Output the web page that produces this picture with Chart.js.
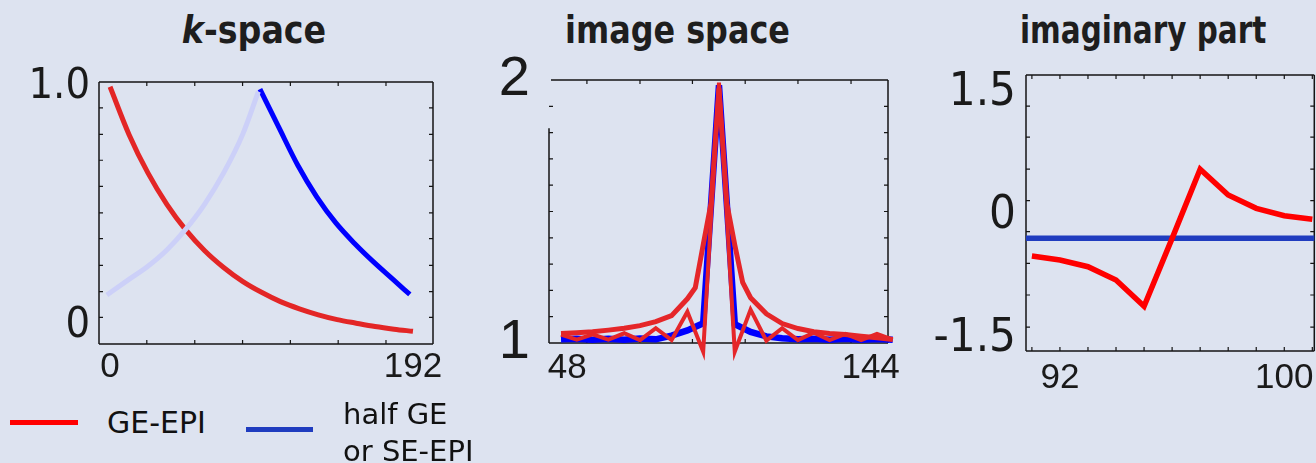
<!DOCTYPE html>
<html>
<head>
<meta charset="utf-8">
<script src="https://cdn.jsdelivr.net/npm/chart.js@4.4.0/dist/chart.umd.min.js"></script>
<style>
html,body{margin:0;padding:0;background:#dde3f0;width:1316px;height:463px;overflow:hidden;position:relative}
canvas{position:absolute}
.title{position:absolute;top:12px;width:500px;text-align:center;font-weight:bold;color:#1e1e1e;white-space:nowrap;line-height:1}
.leg{position:absolute;font-family:'DejaVu Sans',sans-serif;color:#111;white-space:nowrap}
.legline{position:absolute;height:5px}
</style>
</head>
<body>
<div class="title" id="t1" style="left:4px" data-fit="1.0"><span class="tt"><i>k</i>-space</span></div>
<div class="title" id="t2" style="left:427px" data-fit="0.957"><span class="tt">image space</span></div>
<div class="title" id="t3" style="left:893px" data-fit="0.885"><span class="tt">imaginary part</span></div>

<canvas id="c1" width="460" height="400" style="left:0;top:0;width:460px;height:400px"></canvas>
<canvas id="c2" width="440" height="400" style="left:470px;top:0;width:440px;height:400px"></canvas>
<canvas id="c3" width="390" height="400" style="left:930px;top:0;width:390px;height:400px"></canvas>

<div class="legline" style="left:10px;top:420px;width:68px;background:#ff0000"></div>
<div class="leg" style="left:107px;top:408px;font-size:30px;line-height:30px">GE-EPI</div>
<div class="legline" style="left:246px;top:427px;width:67px;background:#1f3cbf"></div>
<div class="leg" style="left:343px;top:396px;font-size:29px;line-height:37px">half GE<br>or SE-EPI</div>

<script>
// ---------- data: k-space panel ----------
const kRedX   = [0,12,24,36,48,60,72,84,96,108,120,132,144,156,168,180,192];
const kRed    = [1.0,0.801,0.640,0.509,0.402,0.315,0.245,0.187,0.141,0.102,0.072,0.047,0.027,0.012,-0.002,-0.013,-0.022];
const kLightX = [-2,12,24,36,48,60,72,84,94];
const kLight  = [0.130,0.195,0.250,0.318,0.405,0.510,0.640,0.800,0.980];
const kBlueX  = [95,107,119,131,143,155,167,179,190];
const kBlue   = [0.990,0.830,0.672,0.540,0.432,0.345,0.268,0.197,0.132];
const kXTicks = [0,192];
const kXTickLabels = ['0','192'];
const kYTicks = [0,1];
const kYTickLabels = ['0','1.0'];
const kXMinor = [23.3,53.7,84,114.3,144.6,174.9];
const kYMinor = [0.036,0.144,0.254,0.365,0.473,0.584,0.693,0.801,0.912];

// ---------- data: image-space panel ----------
const imgX    = [46,51,56,61,66,71,76,81,86,91,96,101,106,111,116,121,126,131,136,141,146,151];
const imgRed  = [1.032,1.013,1.033,1.013,1.037,1.011,1.056,1.011,1.119,0.967,1.99,0.967,1.127,1.009,1.056,1.011,1.039,1.011,1.035,1.011,1.035,1.013];
const imgBlue = [1.014,1.016,1.012,1.016,1.012,1.017,1.014,1.028,1.048,1.075,1.98,1.072,1.042,1.025,1.018,1.014,1.016,1.012,1.016,1.012,1.015,1.012];
const envX    = [46,51,56,61,66,71,76,81,86,88.5,91,93.5,96,98.5,101,103.5,106,111,116,121,126,131,136,141,146,151];
const envY    = [1.036,1.039,1.043,1.049,1.056,1.066,1.081,1.104,1.168,1.21,1.373,1.532,1.968,1.53,1.373,1.23,1.172,1.111,1.074,1.055,1.043,1.036,1.032,1.026,1.020,1.013];
const imgXTicks = [48,144];
const imgXTickLabels = ['48','144'];
const imgYTicks = [1,2];
const imgYTickLabels = ['1','2'];
const imgXMinor = [54.2,71.0,87.6,104.3,121.0,137.8];
const imgYMinor = [1.1,1.2,1.3,1.4,1.5,1.6,1.7,1.8,1.9];

// ---------- data: imaginary-part panel ----------
const imX     = [91,92,93,94,95,96,97,98,99,100,101];
const imRed   = [-0.488,-0.537,-0.618,-0.780,-1.10,-0.272,0.57,0.256,0.094,0.004,-0.040];
const imBlueX = [90.5,101.5];
const imBlue  = [-0.272,-0.272];
const imXTicks = [92,100];
const imXTickLabels = ['92','100'];
const imYTicks = [-1.5,0,1.5];
const imYTickLabels = ['-1.5','0','1.5'];
const imXMinor = [91,92,93,94,95,96,97,98,99,100,101];
const imYMinor = [1.341,0.963,0.573,0.187,-0.191,-0.577,-0.963,-1.354];

// ---------- font detection ----------
function hasFont(name){
  const ctx=document.createElement('canvas').getContext('2d');
  const s='abcdefghijklmnopqrstuvwxyz0123456789ABCDEFG';
  return ['monospace','serif'].some(fb=>{
    ctx.font='40px '+fb; const a=ctx.measureText(s).width;
    ctx.font='40px "'+name+'", '+fb; return ctx.measureText(s).width!==a;
  });
}
let NARROW, titleCss;
if (hasFont('Liberation Sans Narrow')) {
  NARROW="'Liberation Sans Narrow'"; titleCss={family:"'Liberation Sans Narrow'",size:44,scale:1.08};
} else if (hasFont('DejaVu Sans Condensed')) {
  NARROW="'DejaVu Sans Condensed'"; titleCss={family:"'DejaVu Sans Condensed'",size:37,scale:1};
} else {
  NARROW="'Roboto'"; titleCss={family:"'Roboto'",size:40,scale:0.82};
}
document.querySelectorAll('.title').forEach(d=>{
  d.style.fontFamily=titleCss.family; d.style.fontSize=titleCss.size+'px';
  const sp=d.querySelector('.tt'); sp.style.display='inline-block';
  const f=parseFloat(d.dataset.fit)*titleCss.scale;
  sp.style.transform='scaleX('+f+')';
});
const SANS="'Liberation Sans', Arial, sans-serif";

// ---------- frame + inward minor ticks plugin ----------
const framePlugin={
  id:'frame',
  beforeDatasetsDraw(chart,args,o){
    const ctx=chart.ctx, a=chart.chartArea, xs=chart.scales.x, ys=chart.scales.y;
    const L=4;
    ctx.save();
    ctx.strokeStyle='#151515'; ctx.lineWidth=1.5; ctx.lineCap='butt';
    const yTop=(o.leftTop!=null)?ys.getPixelForValue(o.leftTop):a.top;
    ctx.beginPath();
    ctx.moveTo(a.left+(o.leftTop!=null?2:0),a.top); ctx.lineTo(a.right,a.top);
    ctx.moveTo(a.right,a.top); ctx.lineTo(a.right,a.bottom);
    ctx.moveTo(a.left,a.bottom); ctx.lineTo(a.right,a.bottom);
    ctx.moveTo(a.left,yTop); ctx.lineTo(a.left,a.bottom);
    ctx.stroke();
    ctx.lineWidth=1.2;
    ctx.beginPath();
    (o.xMinor||[]).forEach(v=>{
      const p=xs.getPixelForValue(v);
      ctx.moveTo(p,a.bottom); ctx.lineTo(p,a.bottom-L);
      ctx.moveTo(p,a.top); ctx.lineTo(p,a.top+L);
    });
    (o.yMinor||[]).forEach(v=>{
      const p=ys.getPixelForValue(v);
      ctx.moveTo(a.left,p); ctx.lineTo(a.left+L,p);
      ctx.moveTo(a.right,p); ctx.lineTo(a.right-L,p);
    });
    ctx.stroke();
    ctx.restore();
  }
};

function pts(xs,ys){return xs.map((x,i)=>({x:x,y:ys[i]}));}

function axis(pos,min,max,vals,labels,font,pad,size){
  const s={
    type:'linear',position:pos,min:min,max:max,
    grid:{display:false,drawTicks:false},border:{display:false},
    afterBuildTicks:sc=>{sc.ticks=vals.map(v=>({value:v}));},
    ticks:{callback:(v,i)=>labels[i],font:font,color:'#1a1a1a',padding:pad,
           maxRotation:0,minRotation:0,autoSkip:false}
  };
  if(pos==='bottom') s.afterFit=sc=>{sc.height=size;};
  else s.afterFit=sc=>{sc.width=size;};
  return s;
}

function makeChart(id,datasets,xAxis,yAxis,padding,frameOpts){
  return new Chart(document.getElementById(id),{
    type:'line',
    data:{datasets:datasets},
    options:{
      responsive:false,animation:false,devicePixelRatio:1,events:[],
      layout:{padding:padding},
      plugins:{legend:{display:false},tooltip:{enabled:false},frame:frameOpts},
      elements:{point:{radius:0}},
      scales:{x:xAxis,y:yAxis}
    },
    plugins:[framePlugin]
  });
}

// ---------- panel 1: k-space ----------
makeChart('c1',[
  {data:pts(kLightX,kLight),borderColor:'#ccd0f8',borderWidth:5,cubicInterpolationMode:'monotone',fill:false},
  {data:pts(kRedX,kRed),borderColor:'#e32626',borderWidth:5,cubicInterpolationMode:'monotone',fill:false},
  {data:pts(kBlueX,kBlue),borderColor:'#0000ff',borderWidth:5,cubicInterpolationMode:'monotone',fill:false}
],
  axis('bottom',-7.0,204.7,kXTicks,kXTickLabels,{family:SANS,size:35},2,45),
  axis('left',-0.075,1.02,kYTicks,kYTickLabels,{family:NARROW,size:43},9,99),
  {left:0,right:27,top:82,bottom:11},
  {xMinor:kXMinor,yMinor:kYMinor}
);

// ---------- panel 2: image space ----------
makeChart('c2',[
  {data:pts(imgX,imgRed),borderColor:'#e52629',borderWidth:4,tension:0,clip:false},
  {data:pts(envX,envY),borderColor:'#e52629',borderWidth:5,tension:0,clip:false},
  {data:pts(imgX,imgBlue),borderColor:'#0000ff',borderWidth:6.5,tension:0,clip:false}
],
  axis('bottom',42.2,149.5,imgXTicks,imgXTickLabels,{family:SANS,size:35},4,45),
  axis('left',1,2,imgYTicks,imgYTickLabels,{family:SANS,size:56},19,79),
  {left:0,right:22,top:80,bottom:12},
  {xMinor:imgXMinor,yMinor:imgYMinor,leftTop:1.817}
);

// ---------- panel 3: imaginary part ----------
makeChart('c3',[
  {data:pts(imX,imRed),borderColor:'#ff0000',borderWidth:5.5,tension:0},
  {data:pts(imBlueX,imBlue),borderColor:'#1f3cbf',borderWidth:5.5,tension:0}
],
  axis('bottom',90.79,101.07,imXTicks,imXTickLabels,{family:SANS,size:35},6,45),
  axis('left',-1.646,1.72,imYTicks,imYTickLabels,{family:NARROW,size:47},10,96),
  {left:0,right:5,top:75,bottom:4},
  {xMinor:imXMinor,yMinor:imYMinor}
);
</script>
</body>
</html>
